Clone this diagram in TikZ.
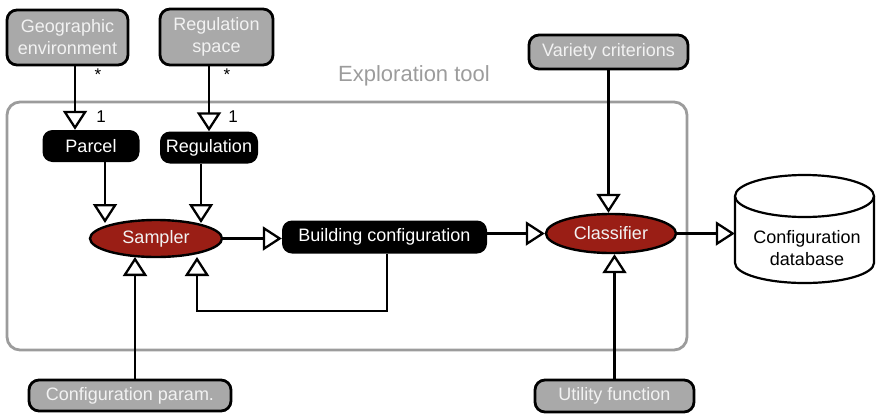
\documentclass[tikz,border=0pt]{standalone}
\usepackage{fontspec}
\setmainfont{Liberation Sans}
\usetikzlibrary{arrows.meta,shapes.geometric}
\definecolor{boxgray}{HTML}{A9A9A9}
\definecolor{framegray}{HTML}{9C9C9C}
\definecolor{ellred}{HTML}{9A1E15}
\definecolor{lighttext}{HTML}{F2F2F2}
\begin{document}
\begin{tikzpicture}[x=1pt,y=-1pt,
  txt/.style={font=\fontsize{18}{22}\selectfont},
  graybox/.style={txt, draw=black, line width=2.8pt, fill=boxgray, rounded corners=10pt,
    text=lighttext, align=center, inner sep=0pt},
  blackbox/.style={txt, fill=black, rounded corners=10pt, text=white, inner sep=0pt},
  ell/.style={txt, ellipse, draw=black, line width=2.4pt, fill=ellred, text=lighttext, inner sep=0pt},
  arr/.style={line width=2.3pt, -{Triangle[length=19pt,width=24pt,fill=white,line width=2.3pt]}},
  mult/.style={font=\fontsize{17}{20}\selectfont, inner sep=0pt}]
\useasboundingbox (0,0) rectangle (876,413);

% exploration frame
\node[draw=framegray, line width=2.8pt, rounded corners=13pt, minimum width=680pt,
  minimum height=248pt, inner sep=0pt] (frame) at (347,226) {};
\node[font=\fontsize{22}{26}\selectfont, text=framegray] (frlabel) at (414,76) {Exploration tool};

% gray input boxes
\node[graybox, minimum width=121pt, minimum height=55pt] (geo) at (67.5,37.5) {Geographic\\environment};
\node[graybox, minimum width=113pt, minimum height=56pt] (regsp) at (216.5,37) {Regulation\\space};
\node[graybox, minimum width=159pt, minimum height=34pt] (var) at (608.5,52) {Variety criterions};
\node[graybox, minimum width=202pt, minimum height=31pt] (cfgp) at (130,395.5) {Configuration param.};
\node[graybox, minimum width=159pt, minimum height=32pt] (util) at (614.5,396) {Utility function};

% black boxes
\node[blackbox, minimum width=97pt, minimum height=32pt] (parcel) at (91,146) {Parcel};
\node[blackbox, minimum width=98pt, minimum height=32pt] (reg) at (209,147.5) {Regulation};
\node[blackbox, minimum width=205pt, minimum height=33pt] (config) at (384.5,237) {Building configuration};

% ellipses
\node[ell, minimum width=132pt, minimum height=37pt] (sampler) at (156,238.5) {Sampler};
\node[ell, minimum width=130pt, minimum height=39pt] (cls) at (611,233.5) {Classifier};

% database cylinder
\node[minimum width=139pt, minimum height=110pt, inner sep=0pt] (db) at (804.5,229) {};
\draw[line width=2.2pt, fill=white] (735,196) -- (735,263)
  arc[start angle=180, end angle=360, x radius=69.5pt, y radius=20pt] -- (874,196);
\draw[line width=2.2pt, fill=white] (804.5,196) ellipse [x radius=69.5pt, y radius=21pt];
\node[txt, align=center] (dbt) at (807,248) {Configuration\\database};

% multiplicity labels
\node[mult] (a1) at (98,75) {*};
\node[mult] (a2) at (227,75) {*};
\node[mult] (o1) at (101,117) {1};
\node[mult] (o2) at (233,117) {1};

% helper coordinates on the sampler border
\coordinate (s1) at (105,223);
\coordinate (s2) at (201,223);
\coordinate (s3) at (135,257);
\coordinate (s4) at (197,257);
\coordinate (fb) at (197,311);

% connectors
\draw[arr] ([xshift=7.5pt]geo.south) -- ([xshift=-16pt]parcel.north);
\draw[arr] ([xshift=-7.5pt]regsp.south) -- (reg.north);
\draw[arr] ([xshift=14pt]parcel.south) -- (s1);
\draw[arr] ([xshift=-8pt]reg.south) -- (s2);
\draw[arr] ([xshift=5pt]cfgp.north) -- (s3);
\draw[arr] ([xshift=2.5pt]config.south) |- (fb) -- (s4);
\draw[arr] (sampler.east) -- (sampler.east -| config.west);
\draw[arr] (cls.west -| config.east) -- (cls.west);
\draw[arr] (var.south) -- (var.south |- cls.north);
\draw[arr] (util.north) -- (util.north |- cls.south);
\draw[arr] (cls.east) -- (cls.east -| db.west);
\end{tikzpicture}
\end{document}
